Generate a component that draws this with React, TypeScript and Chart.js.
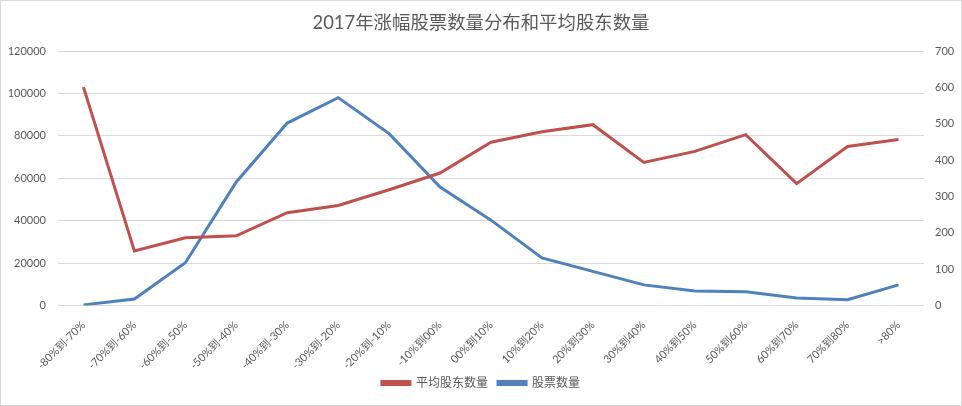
import React, { useEffect, useRef } from "react";
import { Chart, registerables } from "chart.js";

Chart.register(...registerables);

const categories = [
  "-80%到-70%", "-70%到-60%", "-60%到-50%", "-50%到-40%", "-40%到-30%", "-30%到-20%",
  "-20%到-10%", "-10%到00%", "00%到10%", "10%到20%", "20%到30%", "30%到40%",
  "40%到50%", "50%到60%", "60%到70%", "70%到80%", ">80%",
];
const avgHolders = [
  103000, 25800, 32000, 32900, 43800, 47200, 54600, 62500, 77000, 82000, 85300,
  67500, 72700, 80600, 57500, 75000, 78300,
];
const stockCounts = [2, 18, 118, 340, 502, 572, 473, 326, 235, 131, 94, 57, 40, 38, 21, 16, 57];
const leftTicks = [0, 20000, 40000, 60000, 80000, 100000, 120000];
const rightTicks = [0, 100, 200, 300, 400, 500, 600, 700];

const RED = "#C0504D";
const BLUE = "#4F81BD";
const TXT = "#595959";
const FONT = 'Lato, "Noto Sans CJK SC", sans-serif';

export default function App() {
  const ref = useRef<HTMLCanvasElement | null>(null);
  useEffect(() => {
    if (!ref.current) return;
    const chart = new Chart(ref.current, {
      type: "line",
      data: {
        labels: categories,
        datasets: [
          {
            label: "平均股东数量",
            data: avgHolders,
            borderColor: RED,
            backgroundColor: RED,
            borderWidth: 3,
            pointRadius: 0,
            tension: 0,
            yAxisID: "y",
          },
          {
            label: "股票数量",
            data: stockCounts,
            borderColor: BLUE,
            backgroundColor: BLUE,
            borderWidth: 3,
            pointRadius: 0,
            tension: 0,
            yAxisID: "y1",
          },
        ],
      },
      options: {
        animation: false,
        responsive: false,
        maintainAspectRatio: false,
        layout: { padding: { left: 0, right: 0, top: 0, bottom: 6 } },
        plugins: {
          title: {
            display: true,
            text: "2017年涨幅股票数量分布和平均股东数量",
            color: TXT,
            font: { family: FONT, size: 18.4, weight: "normal" },
            padding: { top: 11, bottom: 17 },
          },
          legend: {
            position: "bottom",
            labels: {
              color: TXT,
              font: { family: FONT, size: 12 },
              boxWidth: 28,
              boxHeight: 3,
              padding: 4,
              generateLabels: (c: any) => {
                const items = Chart.defaults.plugins.legend.labels.generateLabels(c);
                return items.map((it: any, i: number) => ({
                  ...it,
                  text: i === 0 ? it.text + "  " : it.text,
                }));
              },
            },
          },
          tooltip: { enabled: false },
        },
        scales: {
          x: {
            offset: true,
            grid: { display: false },
            border: { display: false },
            ticks: {
              color: TXT,
              font: { family: FONT, size: 11 },
              maxRotation: 45,
              minRotation: 45,
              autoSkip: false,
              padding: 5,
            },
            afterFit: (axis: any) => {
              axis.height = axis.height - 4;
            },
          },
          y: {
            position: "left",
            min: 0,
            max: 120000,
            afterBuildTicks: (axis: any) => {
              axis.ticks = leftTicks.map((v) => ({ value: v }));
            },
            afterFit: (axis: any) => {
              axis.width = 57;
            },
            grid: { color: "#D9D9D9", drawTicks: false },
            border: { display: false },
            ticks: {
              color: TXT,
              font: { family: FONT, size: 11 },
              padding: 12,
              callback: (v: any) => String(v),
            },
          },
          y1: {
            position: "right",
            min: 0,
            max: 700,
            afterBuildTicks: (axis: any) => {
              axis.ticks = rightTicks.map((v) => ({ value: v }));
            },
            afterFit: (axis: any) => {
              axis.width = 37;
            },
            grid: { display: false, drawTicks: false },
            border: { display: false },
            ticks: {
              color: TXT,
              font: { family: FONT, size: 11 },
              padding: 11,
              callback: (v: any) => String(v),
            },
          },
        },
      },
    });
    return () => chart.destroy();
  }, []);
  return (
    <div
      style={{
        width: 962,
        height: 406,
        boxSizing: "border-box",
        border: "1px solid #D9D9D9",
        background: "#fff",
        position: "absolute",
        left: 0,
        top: 0,
      }}
    >
      <canvas ref={ref} width={960} height={404} />
    </div>
  );
}
